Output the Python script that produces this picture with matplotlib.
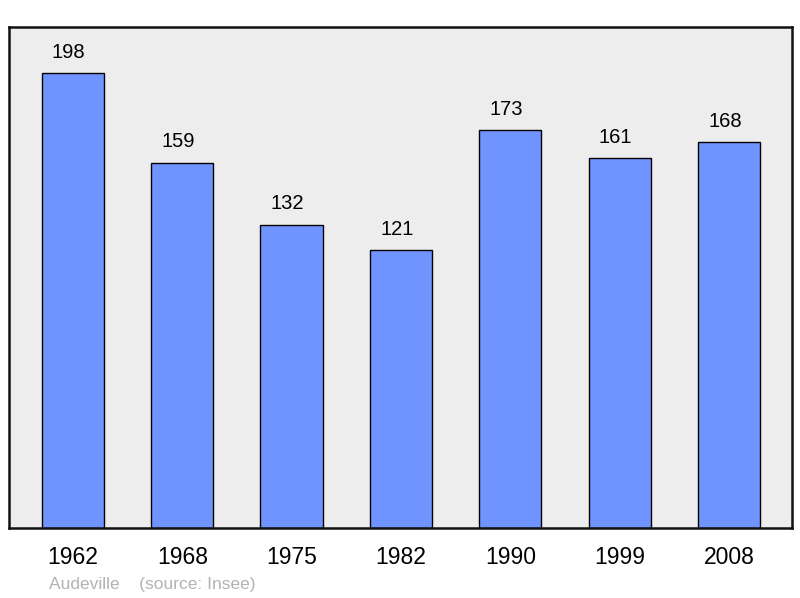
import matplotlib.pyplot as plt

# donnees population
annees = ["1962", "1968", "1975", "1982", "1990", "1999", "2008"]
population = [198, 159, 132, 121, 173, 161, 168]

plt.rcParams['font.family'] = ['Liberation Sans', 'DejaVu Sans']

fig = plt.figure(figsize=(8, 5.98), dpi=100)
ax = fig.add_axes([0.01125, 0.117, 0.97875, 0.8378])
ax.set_facecolor("#ededed")

x = range(len(annees))
bars = ax.bar(x, population, width=0.57, color="#7094ff", edgecolor="black", linewidth=1.0, zorder=2)

for xi, val in zip(x, population):
    ax.annotate(str(val), (xi, val), xytext=(-3, 15), textcoords="offset points",
                ha="center", va="center", fontsize=14.5, color="black")

ax.set_xlim(-0.585, 6.576)
ax.set_ylim(0, 218)
ax.set_xticks(list(x))
ax.set_xticklabels(annees, fontsize=16.5)
ax.tick_params(axis="x", length=0, pad=13)
ax.set_yticks([])
for s in ax.spines.values():
    s.set_linewidth(1.8)
    s.set_color("#111111")

fig.text(49 / 800, 1 - 584 / 598, "Audeville    (source: Insee)", fontsize=12.5,
         color="#b3b3b3", ha="left", va="center")

fig.savefig("out.png", dpi=100)
